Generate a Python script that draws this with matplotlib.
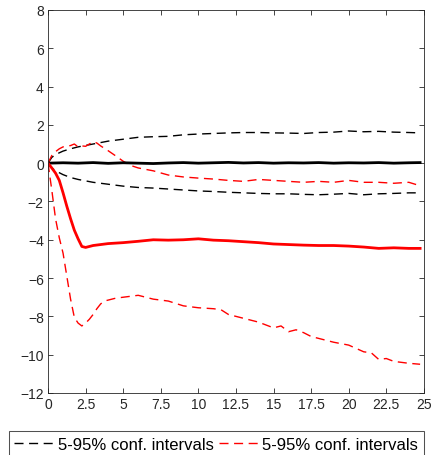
import matplotlib
matplotlib.use("Agg")
import matplotlib.pyplot as plt

plt.rcParams['font.family'] = ['Liberation Sans', 'DejaVu Sans']

# horizon (quarters) and responses
x_black = [0, 1, 2, 3, 4, 5, 6, 7, 8, 9, 10, 11, 12, 13, 14, 15, 16, 17, 18,
           19, 20, 21, 22, 23, 24, 24.75]
black_mid = [0, 0.02, 0.0, 0.03, -0.01, 0.02, 0.0, -0.02, 0.01, 0.03, 0.0, 0.02,
             0.04, 0.01, 0.03, 0.0, 0.02, 0.01, 0.03, 0.0, 0.02, 0.01, 0.03, 0.0,
             0.02, 0.03]

x_band = [0, 0.25, 0.5, 1, 1.5, 2, 3, 4, 5, 6, 7, 8, 9, 10, 11, 12, 13, 14, 15,
          16, 17, 18, 19, 20, 21, 22, 23, 24, 24.75]
black_hi = [0, 0.3, 0.45, 0.63, 0.75, 0.85, 1.0, 1.15, 1.25, 1.35, 1.38, 1.4,
            1.48, 1.52, 1.55, 1.58, 1.6, 1.6, 1.58, 1.57, 1.55, 1.6, 1.62, 1.68,
            1.64, 1.66, 1.62, 1.6, 1.58]
black_lo = [0, -0.25, -0.4, -0.6, -0.75, -0.85, -1.0, -1.1, -1.2, -1.27, -1.3,
            -1.35, -1.4, -1.45, -1.48, -1.52, -1.55, -1.58, -1.6, -1.6, -1.63,
            -1.65, -1.62, -1.58, -1.65, -1.6, -1.58, -1.55, -1.55]

x_red = [0, 0.25, 0.5, 0.75, 1, 1.25, 1.5, 1.75, 2, 2.25, 2.5, 3, 3.5, 4, 5, 6,
         7, 8, 9, 10, 11, 12, 13, 14, 15, 16, 17, 18, 19, 20, 21, 22, 23, 24, 24.75]
red_mid = [0, -0.25, -0.52, -0.9, -1.55, -2.25, -2.9, -3.5, -3.95, -4.35, -4.4,
           -4.3, -4.25, -4.2, -4.15, -4.08, -4.0, -4.02, -4.0, -3.95, -4.02, -4.05,
           -4.1, -4.15, -4.22, -4.25, -4.28, -4.3, -4.3, -4.33, -4.38, -4.45,
           -4.42, -4.45, -4.45]

x_red_hi = [0, 0.25, 0.5, 0.75, 1, 1.5, 1.75, 2, 2.25, 2.5, 2.75, 3, 3.25, 3.5,
            4, 4.5, 5, 5.5, 6, 7, 8, 9, 10, 11, 12, 13, 14, 15, 16, 17, 18, 19,
            20, 21, 22, 23, 24, 24.75]
red_hi = [0, 0.4, 0.6, 0.75, 0.85, 0.92, 1.0, 0.85, 0.9, 0.88, 1.0, 1.12, 1.05,
          0.9, 0.65, 0.38, 0.1, -0.12, -0.25, -0.4, -0.62, -0.72, -0.78, -0.83,
          -0.9, -0.95, -0.85, -0.9, -0.95, -1.0, -0.95, -1.0, -0.9, -1.0, -1.0,
          -1.05, -1.0, -1.18]

x_red_lo = [0, 0.25, 0.5, 0.75, 1, 1.25, 1.5, 1.75, 2, 2.25, 2.5, 2.75, 3, 3.25,
            3.5, 3.75, 4, 4.5, 5, 5.5, 6, 7, 8, 9, 10, 11, 11.5, 12, 13, 14, 15,
            15.5, 16, 16.5, 17, 17.5, 18, 19, 20, 21, 21.5, 22, 22.5, 23, 24, 24.75]
red_lo = [0, -1.4, -2.9, -3.9, -4.7, -5.9, -7.1, -8.05, -8.35, -8.5, -8.35, -8.15,
          -7.9, -7.6, -7.35, -7.2, -7.15, -7.05, -7.0, -6.95, -6.9, -7.1, -7.2,
          -7.45, -7.55, -7.6, -7.65, -7.9, -8.1, -8.3, -8.6, -8.5, -8.8, -8.7,
          -8.85, -9.05, -9.15, -9.35, -9.5, -9.85, -9.9, -10.25, -10.2, -10.35,
          -10.45, -10.5]

xticks = [0, 2.5, 5, 7.5, 10, 12.5, 15, 17.5, 20, 22.5, 25]
xticklabels = ["0", "2.5", "5", "7.5", "10", "12.5", "15", "17.5", "20", "22.5", "25"]
yticks = list(range(-12, 9, 2))

fig = plt.figure(figsize=(4.33, 4.56), dpi=100)
ax = fig.add_axes([0.1109, 0.136, 0.868, 0.840])

dash = (0, (6.5, 4))
lb, = ax.plot(x_band, black_hi, color="black", lw=1.0, ls=dash)
ax.plot(x_band, black_lo, color="black", lw=1.0, ls=dash)
lr, = ax.plot(x_red_hi, red_hi, color="red", lw=1.0, ls=dash)
ax.plot(x_red_lo, red_lo, color="red", lw=1.0, ls=dash)
ax.plot(x_black, black_mid, color="black", lw=2.0)
ax.plot(x_red, red_mid, color="red", lw=2.0)

ax.set_xlim(0, 25)
ax.set_ylim(-12, 8)
ax.set_xticks(xticks)
ax.set_xticklabels(xticklabels)
ax.set_yticks(yticks)
ax.tick_params(direction="in", top=True, right=True, length=3.5, width=0.6,
               colors="#262626", labelsize=10, pad=3)
for s in ax.spines.values():
    s.set_color("#262626")
    s.set_linewidth(0.6)

leg = fig.legend([lb, lr], ["5-95% conf. intervals", "5-95% conf. intervals"],
                 loc="upper center", bbox_to_anchor=(0.499, 0.0526), ncol=2,
                 fontsize=12, frameon=True, fancybox=False, handlelength=2.45,
                 handletextpad=0.15, columnspacing=0.3, borderpad=0.35,
                 borderaxespad=0)
leg.get_frame().set_edgecolor("#262626")
leg.get_frame().set_linewidth(0.75)

fig.savefig("out.png", dpi=100)
